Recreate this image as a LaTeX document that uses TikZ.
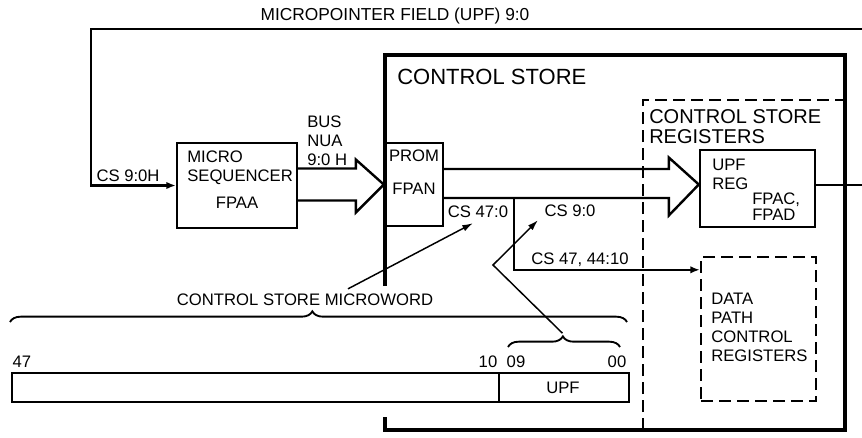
\documentclass[tikz,border=0pt]{standalone}
\usepackage{fontspec}
\setmainfont{Liberation Sans}
\usepackage{tikz}
\usetikzlibrary{arrows.meta,calc,fit,decorations.pathreplacing}

\tikzset{
    lbl/.style={font=\fontsize{12.5}{14.25}\selectfont, inner sep=0pt}, % small labels
    hdr/.style={font=\fontsize{15}{15}\selectfont, inner sep=0pt},     % region titles
    box/.style={draw, line width=1.8pt, inner sep=0pt},
    dbox/.style={box, dash pattern=on 9pt off 4.5pt},
    fat/.style={line width=1.8pt},
    feed/.style={line width=1.6pt, -{Latex[length=7pt,width=5.5pt]}},
    ptr/.style={line width=1.1pt, -{Latex[length=8pt,width=5pt]}},
    wbrace/.style={decorate, decoration={brace, amplitude=8pt, aspect=0.49}, line width=1.4pt},
}

\begin{document}
\begin{tikzpicture}[x=0.75pt,y=-0.75pt]
	\useasboundingbox (0,0) rectangle (862,437);
	% control store outline
	\draw[line width=3.2pt] (385,286) -- (385,55) -- (845,55) -- (845,430) -- (385,430) -- (385,417);
	\node[hdr, font=\fontsize{16.5}{16.5}\selectfont, anchor=west] (cstitle) at (397,77) {CONTROL STORE};
	% control store registers
	\draw[line width=1.8pt, dash pattern=on 9pt off 4.5pt] (643,430) -- (643,100) -- (845,100);
	\node[hdr, align=left, anchor=west] (csrtitle) at (649,127) {CONTROL STORE\\REGISTERS};

	\node[box, fit={(177,143) (297,228)}] (seq) {};
	\node[box, fit={(385,143) (443,226)}] (prom) {};
	\node[box, fit={(700,150) (815,227)}] (upfreg) {};
	\node[dbox, fit={(701,257) (816,401)}] (dpcr) {};
	\node[box, fit={(12,373) (629,402)}] (word) {};
	\draw[line width=1.2pt] (499,373) -- (499,402); % field divider

	\node[lbl, align=left, anchor=west] (seqtxt) at (187,167.5) {MICRO\\SEQUENCER};
	\node[lbl] (fpaa) at (237,203) {FPAA};
	\node[lbl] (promtxt) at (414,156) {PROM};
	\node[lbl] (fpan) at (414,189) {FPAN};
	\node[lbl, align=left, anchor=west] (upftxt) at (712,174) {UPF\\REG};
	\node[lbl, anchor=west] (fpac) at (752,200) {FPAC,};
	\node[lbl, anchor=west] (fpad) at (752,215) {FPAD};
	\node[lbl, align=left, anchor=west] (dptxt) at (711,327.5) {DATA\\PATH\\CONTROL\\REGISTERS};
	\node[lbl, align=left, anchor=west] (bus) at (307,141) {BUS\\NUA\\9:0 H};

	\node[lbl, font=\fontsize{13}{13}\selectfont] (upfld) at (395,16) {MICROPOINTER FIELD (UPF) 9:0};
	\node[lbl] (cs9h) at (128,176) {CS 9:0H};
	\node[lbl] (cs47) at (478,212) {CS 47:0};
	\node[lbl] (cs9) at (570,211) {CS 9:0};
	\node[lbl] (cs4744) at (580,260) {CS 47, 44:10};
	\node[lbl] (csmw) at (305,300) {CONTROL STORE MICROWORD};
	\node[lbl] (b47) at (22,362) {47};
	\node[lbl] (b10) at (488,362) {10};
	\node[lbl] (b09) at (516,362) {09};
	\node[lbl] (b00) at (617,362) {00};
	\node[lbl] (upf) at (563,388) {UPF};

	% buses
	\coordinate (topend) at (862,29);
	\coordinate (outend) at (862,185);
	\coordinate (tip) at ($(upfreg.west)+(0,-4)$);
	\draw[feed] (topend) -- (91,29) |- (seq.west);
	\draw[fat] ($(seq.east)+(0,-17)$) -| ($(prom.west)+(-28,-25)$) -- (prom.west) -- ($(prom.west)+(-28,28)$) |- ($(seq.east)+(0,15)$);
	\draw[fat] ($(prom.east)+(0,-15.5)$) -| ($(tip)+(-30,-27)$) -- (tip) -- ($(tip)+(-30,31)$) |- ($(prom.east)+(0,13.5)$);
	\draw[line width=1.6pt] ($(upfreg.east)+(0,-3.5)$) -- (outend);
	\draw[feed] ($(prom.east)+(70,13.5)$) |- ($(dpcr.north west)+(0,14)$);

	% microword fields
	\draw[wbrace] (10,322) -- (627,322);
	\draw[wbrace] (508,347) -- (620,347) node[midway, above=8pt, inner sep=0pt] (upfbr) {};
	\draw[ptr] ($(csmw.north)+(43,-5)$) -- ($(cs47.south)+(-5,5)$);
	\draw[ptr] (upfbr) -- (493,265) -- ($(cs9.south)+(-32,3)$);
\end{tikzpicture}
\end{document}
